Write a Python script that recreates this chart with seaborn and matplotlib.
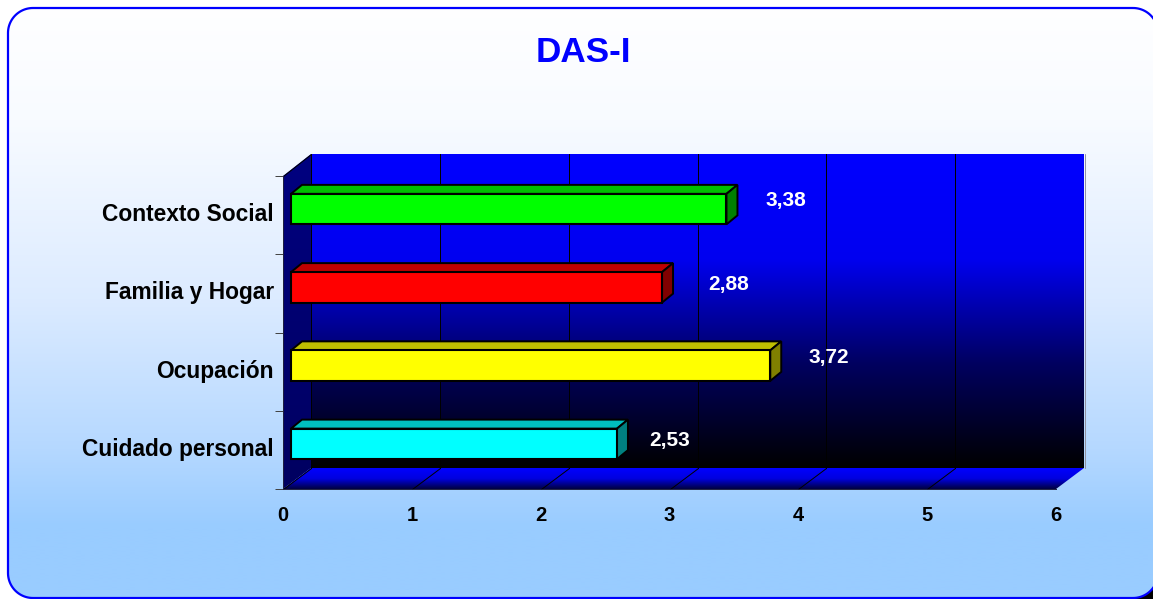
import numpy as np
import matplotlib
matplotlib.use("Agg")
import matplotlib.pyplot as plt
import seaborn as sns
from matplotlib.colors import LinearSegmentedColormap
from matplotlib.patches import Polygon
from matplotlib.transforms import Affine2D, IdentityTransform

categories = ["Contexto Social", "Familia y Hogar", "Ocupación", "Cuidado personal"]
values = [3.38, 2.88, 3.72, 2.53]
value_labels = ["3,38", "2,88", "3,72", "2,53"]
bar_colors = ["#00FF00", "#FF0000", "#FFFF00", "#00FFFF"]
top_colors = ["#00BF00", "#BF0000", "#BFBF00", "#00BFBF"]
side_colors = ["#008000", "#800000", "#808000", "#008080"]
x_ticks = [0, 1, 2, 3, 4, 5, 6]

W, H = 1153, 599
sns.set_theme(style="white")
plt.rcParams["font.family"] = ["Liberation Sans", "DejaVu Sans"]
plt.rcParams["font.weight"] = "bold"

fig = plt.figure(figsize=(W / 100, H / 100), dpi=100)
fig.patch.set_facecolor("white")

# full figure overlay in pixels, y going down like the picture
bg = fig.add_axes([0, 0, 1, 1], zorder=0)
bg.set_xlim(0, W)
bg.set_ylim(H, 0)
bg.axis("off")


def gradient(ax, stops, extent, clip=None):
    cmap = LinearSegmentedColormap.from_list("g", stops)
    grad = np.linspace(0, 1, 256).reshape(-1, 1)
    im = ax.imshow(grad, cmap=cmap, extent=extent, aspect="auto", zorder=1,
                   interpolation="bilinear", origin="upper")
    if clip is not None:
        im.set_clip_path(clip)
    return im


def rounded_rect(x0, y0, x1, y1, r):
    # plain polyline, the right side runs off the canvas and beziers break there
    pts = []
    for cx, cy, start in [(x1 - r, y0 + r, -90), (x1 - r, y1 - r, 0), (x0 + r, y1 - r, 90), (x0 + r, y0 + r, 180)]:
        a = np.radians(np.linspace(start, start + 90, 24))
        pts += list(zip(cx + r * np.cos(a), cy + r * np.sin(a)))
    return pts


# black corner at bottom right only
bg.add_patch(Polygon([(1125, 599), (1153, 599), (1153, 565)], color="black", zorder=0))

outline = rounded_rect(8, 8, 1158, 598, 25)
panel = Polygon(outline, fc="none", ec="none")
bg.add_patch(panel)
gradient(bg, [(0, "#FFFFFF"), (0.2, "#F8FBFF"), (0.5, "#DCEBFF"), (0.75, "#B5D8FF"), (0.88, "#99CCFF"), (1, "#99CCFF")],
         (0, W, 599, 0), clip=panel)
bg.add_patch(Polygon(outline, fc="none", ec="#0000FF", lw=1.6, zorder=2))
bg.set_xlim(0, W)
bg.set_ylim(H, 0)

# 3d box of the plot
FX0, FX1, FY0, FY1 = 283, 1056, 176, 489
DX, DY = 28, 21
back = Polygon([(FX0 + DX, FY0 - 22), (FX1 + DX, FY0 - 22), (FX1 + DX, FY1 - DY), (FX0 + DX, FY1 - DY)], fc="none", ec="none")
bg.add_patch(back)
gradient(bg, ["#0000FF", "#0000F0", "#000060", "#000000"], (FX0 + DX, FX1 + DX, FY1 - DY, FY0 - 22), clip=back)
wall = Polygon([(FX0, FY0), (FX0 + DX, FY0 - 22), (FX0 + DX, FY1 - DY), (FX0, FY1)], fc="none", ec="none")
bg.add_patch(wall)
gradient(bg, ["#000080", "#000060"], (FX0, FX0 + DX, FY1, FY0 - 22), clip=wall)
floor = Polygon([(FX0, FY1), (FX0 + DX, FY1 - DY), (FX1 + DX, FY1 - DY), (FX1, FY1)], fc="none", ec="none")
bg.add_patch(floor)
gradient(bg, ["#0000FF", "#0000E0", "#000040"], (FX0, FX1 + DX, FY1, FY1 - DY), clip=floor)
bg.plot([FX1 + DX + 0.5] * 2, [FY0 - 22, FY1 - DY], color="#9090A0", lw=0.7, zorder=2)
bg.set_xlim(0, W)
bg.set_ylim(H, 0)

# front plane axes carries the real scales
ax = fig.add_axes([FX0 / W, 1 - FY1 / H, (FX1 - FX0) / W, (FY1 - FY0) / H], zorder=3)
ax.patch.set_alpha(0)
sns.barplot(x=values, y=categories, hue=categories, palette=bar_colors, saturation=1, legend=False,
            width=0.39, edgecolor="black", linewidth=1.5, orient="h", ax=ax)
ax.set_xlim(0, 6)
ax.set_ylim(3.5, -0.5)
ax.set_xticks(x_ticks)
ax.set_xlabel("")
ax.set_ylabel("")
for s in ("top", "right"):
    ax.spines[s].set_visible(False)
for s in ("left", "bottom"):
    ax.spines[s].set_color("#202040")
    ax.spines[s].set_linewidth(0.7)
ax.tick_params(axis="x", length=6, width=0.7, color="#404040", pad=6, labelsize=14.5, labelcolor="black")
ax.set_yticks([-0.5, 0.5, 1.5, 2.5, 3.5], minor=True)
ax.tick_params(axis="y", which="minor", left=True, length=6, width=0.7, color="#404040")
ax.tick_params(axis="y", which="major", length=0, pad=6.5, labelsize=16.4, labelcolor="black")
for label in ax.get_yticklabels():
    label.set_transform(label.get_transform() + Affine2D().translate(0, 3))

# grid lines on back wall and floor, following the tick positions
line_style = dict(color="black", lw=0.7, zorder=2, snap=True)
gridline_px = [ax.transData.transform((t, 0))[0] for t in x_ticks]
for px in gridline_px:
    if FX0 + 1 < px < FX1 - 1:
        bg.plot([px + DX, px + DX], [FY0 - 22, FY1 - DY], antialiased=False, **line_style)
    if px < FX1 - 1:
        bg.plot([px, px + DX], [FY1, FY1 - DY], **line_style)
bg.plot([FX0, FX0 + DX], [FY0, FY0 - 22], **line_style)
bg.plot([FX0 + DX, FX0 + DX], [FY0 - 22, FY1 - DY], antialiased=False, **line_style)

# bars start a little inside the wall and get a top and side face
SHIFT = ax.transData + Affine2D().translate(8, 6)
BX, BY = 11, 9
label_gap = [48, 56, 48, 42]
label_up = [9, 3, 8, 3]
for i, bar in enumerate(list(ax.patches)):
    bar.set_transform(SHIFT)
    bar.set_zorder(4)
    (x0, y0), (x1, y1) = SHIFT.transform(bar.get_bbox().get_points())
    y_lo, y_hi = min(y0, y1), max(y0, y1)
    top = Polygon([(x0, y_hi), (x0 + BX, y_hi + BY), (x1 + BX, y_hi + BY), (x1, y_hi)],
                  fc=top_colors[i], ec="black", lw=1.4, transform=IdentityTransform(), zorder=3.5)
    side = Polygon([(x1, y_lo), (x1 + BX, y_lo + BY), (x1 + BX, y_hi + BY), (x1, y_hi)],
                   fc=side_colors[i], ec="black", lw=1.4, transform=IdentityTransform(), zorder=3.5)
    ax.add_patch(top)
    ax.add_patch(side)
    ax.annotate(value_labels[i], xy=(x1 + BX + label_gap[i], (y_lo + y_hi) / 2 + label_up[i]),
                xycoords="figure pixels", ha="center", va="center", color="white",
                fontsize=15, fontweight="bold", zorder=6)

fig.text(583 / W, 1 - 52 / H, "DAS-I", ha="center", va="center", color="#0000FF", fontsize=25.3, fontweight="bold", zorder=10)

fig.savefig("out.png", dpi=100)
